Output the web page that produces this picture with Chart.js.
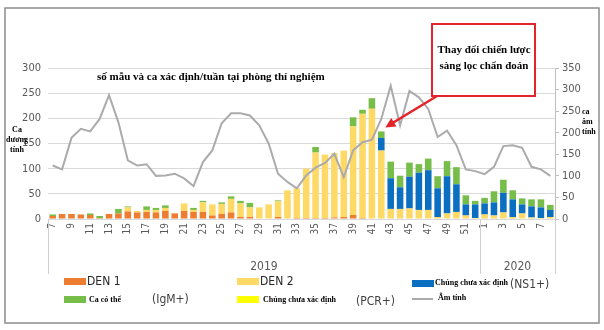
<!DOCTYPE html>
<html>
<head>
<meta charset="utf-8">
<script src="https://cdn.jsdelivr.net/npm/chart.js@4"></script>
<style>
  html, body { margin: 0; padding: 0; background: #fff; }
  #wrap { width: 604px; height: 330px; position: relative; }
</style>
</head>
<body>
<div id="wrap"><canvas id="labChart" width="604" height="330"></canvas></div>
<script>
/* Weekly dengue lab samples: positives by serotype (left) vs negatives (right) */

const weeks = ['7','8','9','10','11','12','13','14','15','16','17','18','19','20','21','22','23','24','25','26',
  '27','28','29','30','31','32','33','34','35','36','37','38','39','40','41','42','43','44','45','46',
  '47','48','49','50','51','52','1','2','3','4','5','6','7','8'];
const years = [{ label: '2019', from: 0, to: 45 }, { label: '2020', from: 46, to: 53 }];

const den1 = [6,10,10,9,8,2,10,11,15,13,14,13,16,11,16,14,14,7,10,13,
  4,4,1,1,4,1,2,2,2,2,3,4,8,2,0,0,0,0,0,0,
  0,0,0,0,0,0,0,0,0,0,0,0,0,0];
const den2 = [0,0,0,0,0,0,0,0,8,3,4,5,6,1,15,4,19,22,20,27,
  27,19,22,28,31,56,59,98,130,126,128,132,176,207,219,136,20,20,21,18,
  18,4,11,14,7,2,9,7,13,4,11,3,2,4];
const pcrUnknown = new Array(54).fill(0);
const ns1Unknown = [0,0,0,0,0,0,0,0,0,0,0,0,0,0,0,0,0,0,0,0,
  0,0,0,0,0,0,0,0,0,0,0,0,0,0,0,25,61,43,63,74,
  79,57,74,55,22,27,22,26,39,35,18,22,21,14];
const igmProbable = [3,0,0,0,3,4,0,9,2,0,7,4,5,0,0,4,3,0,3,5,
  5,9,0,0,2,0,0,0,11,0,0,0,18,8,21,13,33,23,28,17,
  23,24,30,34,18,7,11,22,26,18,12,14,16,10];
const negative = [124,115,188,209,203,232,287,224,136,124,127,100,101,105,94,76,132,159,222,245,
  245,240,217,175,105,86,71,101,119,130,151,97,159,178,184,232,309,217,297,282,
  255,190,205,171,115,111,104,121,169,171,165,121,115,100];

const leftTicks = [0, 50, 100, 150, 200, 250, 300];
const rightTicks = [0, 50, 100, 150, 200, 250, 300, 350];

const NARROW = "'Liberation Sans Narrow', 'DejaVu Sans Condensed', 'Arial Narrow', sans-serif";
const SERIF = "'Liberation Serif', 'Times New Roman', serif";
const TICK_GREY = '#595959';

const colors = {
  den1: '#ED7D31', den2: '#FFD966', pcr: '#FFFF00', ns1: '#0B6FC1', igm: '#76BD4A', neg: '#ABABAB'
};

function barSet(label, data, color) {
  return {
    type: 'bar', label, data, backgroundColor: color, stack: 's', yAxisID: 'y',
    barPercentage: 0.7, categoryPercentage: 1, order: 2
  };
}

// text, swatch and frame drawn around the plot
const decor = {
  id: 'decor',
  beforeDraw(chart) {
    const ctx = chart.ctx;
    ctx.save();
    ctx.fillStyle = '#fff';
    ctx.fillRect(0, 0, chart.width, chart.height);
    ctx.restore();
  },
  afterDraw(chart) {
    const ctx = chart.ctx;
    const xs = chart.scales.x, ys = chart.scales.y;
    const { left, right, bottom } = chart.chartArea;
    ctx.save();

    // outer frame
    ctx.strokeStyle = '#8c8c8c';
    ctx.lineWidth = 1.5;
    ctx.strokeRect(5, 8, 594, 315);

    // category boxes under the axis, one per year
    ctx.strokeStyle = '#d0d0d0';
    ctx.lineWidth = 1;
    const sep = (xs.getPixelForValue(45) + xs.getPixelForValue(46)) / 2;
    [left, sep, right].forEach(px => {
      ctx.beginPath();
      ctx.moveTo(Math.round(px) + 0.5, bottom);
      ctx.lineTo(Math.round(px) + 0.5, 274);
      ctx.stroke();
    });
    ctx.fillStyle = TICK_GREY;
    ctx.font = '12px ' + NARROW;
    ctx.textAlign = 'center';
    ctx.textBaseline = 'middle';
    const edges = [left, sep, right];
    years.forEach((yr, i) => ctx.fillText(yr.label, (edges[i] + edges[i + 1]) / 2, 267));

    // chart title
    ctx.fillStyle = '#000';
    ctx.font = 'bold 11px ' + SERIF;
    ctx.textAlign = 'left';
    ctx.fillText('số mẫu và ca xác định/tuần tại phòng thí nghiệm', 97, 77);

    // axis titles
    ctx.font = 'bold 8px ' + SERIF;
    ctx.textAlign = 'center';
    ['Ca', 'dương', 'tính'].forEach((t, i) => ctx.fillText(t, 17, 130 + i * 10));
    ctx.textAlign = 'left';
    ['ca', 'âm', 'tính'].forEach((t, i) => ctx.fillText(t, 582, 112 + i * 10));

    // annotation box
    ctx.fillStyle = '#fff';
    ctx.fillRect(432, 24, 103, 72);
    ctx.strokeStyle = '#E3242B';
    ctx.lineWidth = 2;
    ctx.strokeRect(432, 24, 103, 72);
    ctx.fillStyle = '#000';
    ctx.font = 'bold 11px ' + SERIF;
    ctx.textAlign = 'center';
    ctx.fillText('Thay đổi chiến lược', 484, 50);
    ctx.fillText('sàng lọc chẩn đoán', 484, 66);

    // arrow to the week 42 bar
    const i42 = 35;
    const top42 = den1[i42] + den2[i42] + pcrUnknown[i42] + ns1Unknown[i42] + igmProbable[i42];
    const tx = xs.getPixelForValue(i42) + 4, ty = ys.getPixelForValue(top42) - 4;
    const sx = 437, sy = 96;
    const ang = Math.atan2(ty - sy, tx - sx);
    ctx.strokeStyle = '#E3242B';
    ctx.fillStyle = '#E3242B';
    ctx.lineWidth = 2.5;
    ctx.beginPath();
    ctx.moveTo(sx, sy);
    ctx.lineTo(tx - 8 * Math.cos(ang), ty - 8 * Math.sin(ang));
    ctx.stroke();
    ctx.beginPath();
    ctx.moveTo(tx, ty);
    ctx.lineTo(tx - 10 * Math.cos(ang) + 5 * Math.sin(ang), ty - 10 * Math.sin(ang) - 5 * Math.cos(ang));
    ctx.lineTo(tx - 10 * Math.cos(ang) - 5 * Math.sin(ang), ty - 10 * Math.sin(ang) + 5 * Math.cos(ang));
    ctx.closePath();
    ctx.fill();

    // legend
    const swatch = (x, y, c) => { ctx.fillStyle = c; ctx.fillRect(x, y, 22, 7); };
    ctx.textAlign = 'left';
    ctx.textBaseline = 'middle';

    swatch(64, 278, colors.den1);
    swatch(237, 278, colors.den2);
    swatch(412, 280, colors.ns1);
    swatch(64, 296, colors.igm);
    swatch(237, 296, colors.pcr);
    ctx.strokeStyle = colors.neg;
    ctx.lineWidth = 2;
    ctx.beginPath();
    ctx.moveTo(412, 299);
    ctx.lineTo(433, 299);
    ctx.stroke();

    ctx.fillStyle = '#262626';
    ctx.font = '12px ' + NARROW;
    ctx.fillText('DEN 1', 87, 282);
    ctx.fillText('DEN 2', 260, 282);
    ctx.fillStyle = '#404040';
    ctx.fillText('(IgM+)', 152, 300);
    ctx.fillText('(PCR+)', 356, 302);
    ctx.fillText('(NS1+)', 510, 285);

    ctx.fillStyle = '#000';
    ctx.font = 'bold 8px ' + SERIF;
    ctx.fillText('Ca có thể', 89, 300);
    ctx.fillText('Chủng chưa xác định', 263, 300);
    ctx.fillText('Chủng chưa xác định', 435, 283);
    ctx.fillText('Âm tính', 438, 298);

    ctx.restore();
  }
};

new Chart(document.getElementById('labChart'), {
  data: {
    labels: weeks,
    datasets: [
      {
        type: 'line', label: 'Âm tính', data: negative, yAxisID: 'y1',
        borderColor: colors.neg, borderWidth: 2, pointRadius: 0, tension: 0, order: 1
      },
      barSet('DEN 1', den1, colors.den1),
      barSet('DEN 2', den2, colors.den2),
      barSet('Chủng chưa xác định (PCR+)', pcrUnknown, colors.pcr),
      barSet('Chủng chưa xác định (NS1+)', ns1Unknown, colors.ns1),
      barSet('Ca có thể (IgM+)', igmProbable, colors.igm)
    ]
  },
  options: {
    responsive: false,
    animation: false,
    layout: { padding: { top: 68, bottom: 81, left: 0, right: 0 } },
    plugins: { legend: { display: false }, tooltip: { enabled: false } },
    scales: {
      x: {
        stacked: true,
        grid: { display: false, drawTicks: false },
        border: { display: false },
        afterFit: s => { s.height = 30; },
        ticks: {
          autoSkip: false, minRotation: 90, maxRotation: 90, padding: 4,
          color: TICK_GREY, font: { family: NARROW, size: 10 },
          callback: (v, i) => (i % 2 === 0 ? weeks[i] : '')
        }
      },
      y: {
        stacked: true, position: 'left', min: 0, max: 300,
        afterFit: s => { s.width = 48; },
        afterBuildTicks: s => { s.ticks = leftTicks.map(v => ({ value: v })); },
        grid: { color: '#d9d9d9', drawTicks: false },
        border: { display: false },
        ticks: { padding: 7, color: TICK_GREY, font: { family: NARROW, size: 11 } }
      },
      y1: {
        position: 'right', min: 0, max: 350,
        afterFit: s => { s.width = 49; },
        afterBuildTicks: s => { s.ticks = rightTicks.map(v => ({ value: v })); },
        grid: { drawOnChartArea: false, color: '#bfbfbf', tickLength: 4 },
        border: { display: true, color: '#bfbfbf' },
        ticks: { padding: 3, color: TICK_GREY, font: { family: NARROW, size: 11 } }
      }
    }
  },
  plugins: [decor]
});
</script>
</body>
</html>
